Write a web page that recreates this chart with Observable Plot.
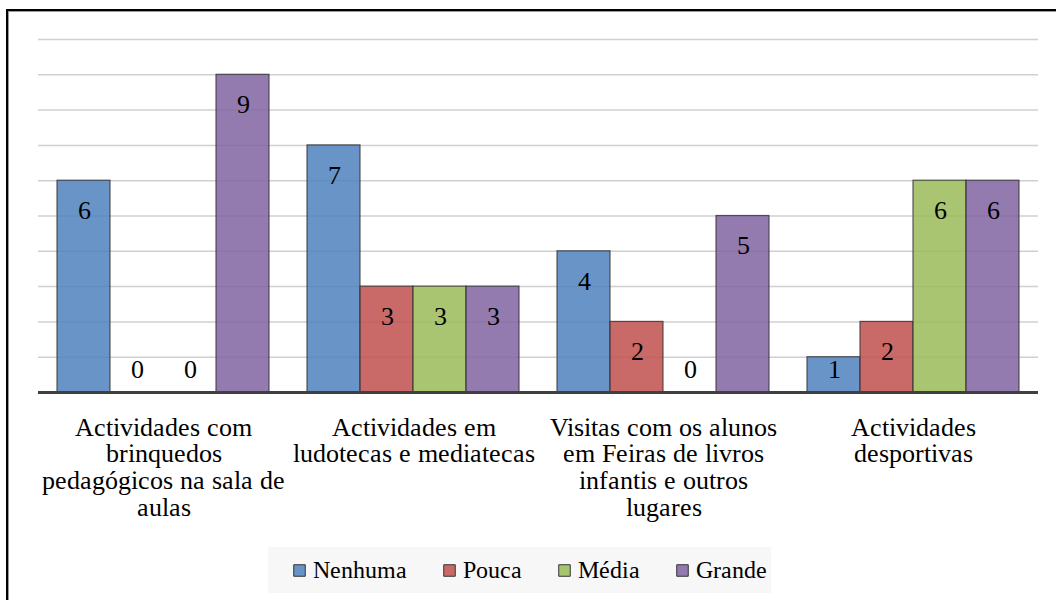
<!DOCTYPE html>
<html><head><meta charset="utf-8">
<script src="https://cdn.jsdelivr.net/npm/d3@7"></script>
<script src="https://cdn.jsdelivr.net/npm/@observablehq/plot@0.6"></script>
<style>
@font-face{font-family:"ChartSerif";src:local("Liberation Serif"),local("LiberationSerif"),local("LiberationSerif-Regular"),local("Liberation Serif Regular"),local("Times New Roman");font-weight:normal;font-style:normal;}
html,body{margin:0;padding:0;background:#fff;}
#wrap{position:relative;width:1056px;height:600px;overflow:hidden;background:#fff;}
#frame{position:absolute;left:6px;top:9px;width:1100px;height:700px;border-left:2px solid #000;border-top:2px solid #000;box-shadow:inset 1px 1px 0 #999;}
#chart{position:absolute;left:0;top:0;line-height:0;}
#legend{position:absolute;left:268px;top:547px;width:503px;height:46px;line-height:0;}
#chart svg,#legend svg{display:block;}
</style></head>
<body>
<div id="wrap"><div id="frame"></div><div id="chart"></div><div id="legend"></div></div>
<script>
const categories = [
  "Actividades com\nbrinquedos\npedagógicos na sala de\naulas",
  "Actividades em\nludotecas e mediatecas",
  "Visitas com os alunos\nem Feiras de livros\ninfantis e outros\nlugares",
  "Actividades\ndesportivas"
];
const series = ["Nenhuma", "Pouca", "Média", "Grande"];
const nenhuma = [6, 7, 4, 1];
const pouca = [0, 3, 2, 2];
const media = [0, 3, 0, 6];
const grande = [9, 3, 5, 6];
const colors = ["#4F81BD", "#C0504D", "#9BBB59", "#8064A2"];
const gridValues = [1, 2, 3, 4, 5, 6, 7, 8, 9, 10];

const seriesValues = [nenhuma, pouca, media, grande];
const data = categories.flatMap((c, i) => series.map((s, j) => ({category: c, series: s, value: seriesValues[j][i]})));
const FONT = "ChartSerif, 'Liberation Serif', 'Times New Roman', Times, serif";

function draw() {
  const chart = Plot.plot({
    width: 1056, height: 545,
    marginLeft: 37, marginRight: 17, marginTop: 39, marginBottom: 153,
    style: {fontFamily: FONT, fontSize: "26px", background: "transparent", color: "#000"},
    fx: {domain: categories, padding: 0, label: null},
    x: {domain: series, paddingInner: 0, paddingOuter: 0.32, axis: null},
    y: {domain: [0, 10], axis: null},
    color: {domain: series, range: colors},
    marks: [
      Plot.ruleY(gridValues, {stroke: "#d0d0d0", strokeWidth: 1.5}),
      Plot.barY(data, {fx: "category", x: "series", y: "value", fill: "series", fillOpacity: 0.85, stroke: "#333", strokeOpacity: 0.8, strokeWidth: 1.2}),
      Plot.ruleY([0], {stroke: "#404040", strokeWidth: 3}),
      Plot.text(data, {fx: "category", x: "series", y: d => Math.max(d.value, 1.5), dy: 30, text: "value", fontSize: 26, fill: "#000"}),
      Plot.axisFx({anchor: "bottom", tickSize: 0, tickPadding: 24, fontSize: 26, lineHeight: 1.03, label: null, lineAnchor: "top", fill: "#000"})
    ]
  });
  document.getElementById("chart").replaceChildren(chart);

  // legend laid out from the measured widths of its labels
  const ctx = document.createElement("canvas").getContext("2d");
  ctx.font = "24px " + FONT;
  let pos = 25;
  const items = series.map((s) => {
    const it = {series: s, sx: pos + 6, tx: pos + 19};
    pos = it.tx + ctx.measureText(s).width + 37;
    return it;
  });
  const legend = Plot.plot({
    width: 503, height: 46, margin: 0,
    style: {fontFamily: FONT, fontSize: "24px", background: "#f7f7f7", color: "#000"},
    x: {type: "identity"},
    color: {domain: series, range: colors},
    marks: [
      Plot.dot(items, {x: "sx", symbol: "square", r: 6.5, fill: "series", fillOpacity: 0.85, stroke: "#333", strokeWidth: 1}),
      Plot.text(items, {x: "tx", text: "series", textAnchor: "start", fontSize: 24, fill: "#000"})
    ]
  });
  document.getElementById("legend").replaceChildren(legend);
}
draw();
if (document.fonts && document.fonts.load) {
  document.fonts.load("26px ChartSerif").then(draw).catch(() => {});
}
</script>
</body></html>
